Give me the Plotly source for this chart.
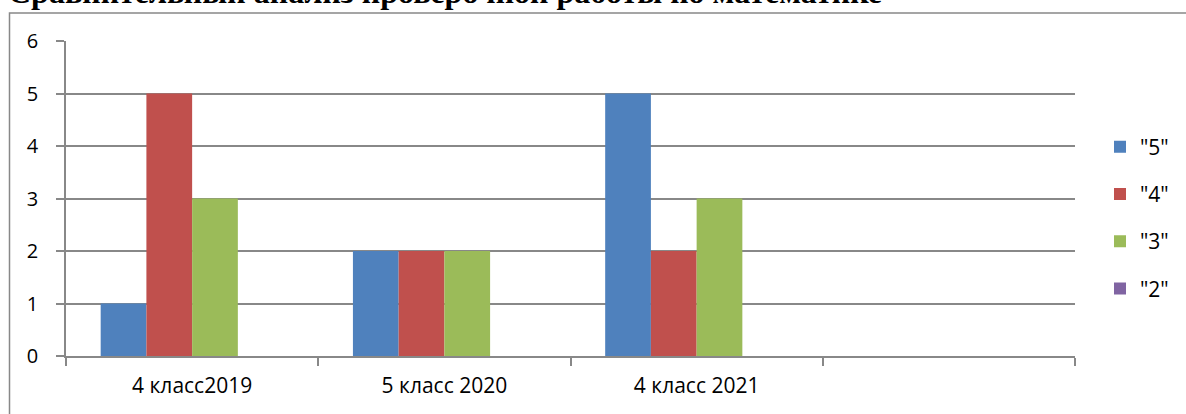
import plotly.graph_objects as go

# ── Data ──────────────────────────────────────────────────────────────────────
CATEGORIES = ["4 класс2019", "5 класс 2020", "4 класс 2021"]
SLOTS = CATEGORIES + [" "]          # the chart keeps an empty fourth slot
SERIES_NAMES = ['"5"', '"4"', '"3"', '"2"']
GRADE_5 = [1, 2, 5]
GRADE_4 = [5, 2, 2]
GRADE_3 = [3, 2, 3]
GRADE_2 = [0, 0, 0]

TITLE = "Сравнительный анализ проверочной работы по математике"

# ── Style ─────────────────────────────────────────────────────────────────────
COLORS = ["#4F81BD", "#C0504D", "#9BBB59", "#8064A2"]
GRID = "#888888"
FONT = "Open Sans, sans-serif"

W, H = 1186, 414
L, R, T, B = 66, 111, 41, 58
PW, PH = W - L - R, H - T - B


def px_x(px):
    return (px - L) / PW


def px_y(py):
    return (H - B - py) / PH


fig = go.Figure()
for i, (name, vals) in enumerate(zip(SERIES_NAMES, [GRADE_5, GRADE_4, GRADE_3, GRADE_2])):
    fig.add_trace(go.Bar(
        x=CATEGORIES, y=vals, name=name,
        marker=dict(color=COLORS[i], line=dict(width=0)),
        legendgroup=name,
    ))

fig.update_layout(
    width=W, height=H,
    margin=dict(l=L, r=R, t=T, b=B, autoexpand=False),
    paper_bgcolor="white", plot_bgcolor="white",
    font=dict(family=FONT, size=20, color="#000000"),
    barmode="group", bargap=0.275, bargroupgap=0,
    legend=dict(x=px_x(1100), xanchor="left", y=px_y(218), yanchor="middle",
                tracegroupgap=17, font=dict(size=21), bgcolor="rgba(0,0,0,0)"),
    showlegend=True,
)
fig.update_xaxes(
    type="category", categoryorder="array", categoryarray=SLOTS,
    range=[-0.5, 3.5], showgrid=False,
    showline=True, linecolor=GRID, linewidth=1.5,
    ticks="outside", tickson="boundaries", ticklen=8, tickcolor=GRID, tickwidth=1.5,
    ticklabelstandoff=10, tickfont=dict(size=21),
)
fig.update_yaxes(
    range=[0, 6], dtick=1, showgrid=True, gridcolor=GRID, gridwidth=1.5,
    showline=True, linecolor=GRID, linewidth=1.5, zeroline=False,
    ticks="outside", ticklen=8, tickcolor=GRID, tickwidth=1.5,
    ticklabelstandoff=14,
)

# chart frame (extends past the visible area on the right and bottom)
fig.add_shape(type="rect", xref="paper", yref="paper",
              x0=px_x(9.5), x1=px_x(1200), y0=px_y(430), y1=px_y(13),
              line=dict(color=GRID, width=1.5), layer="below")

fig.add_annotation(text=f"<b>{TITLE}</b>", xref="paper", yref="paper",
                   x=px_x(6), xanchor="left", y=px_y(12), yanchor="bottom",
                   showarrow=False,
                   font=dict(family="Liberation Serif, serif", size=32, color="#000000"))

fig.write_html("out.html", config={"displayModeBar": False},
               post_script="document.body.style.margin='0';")
